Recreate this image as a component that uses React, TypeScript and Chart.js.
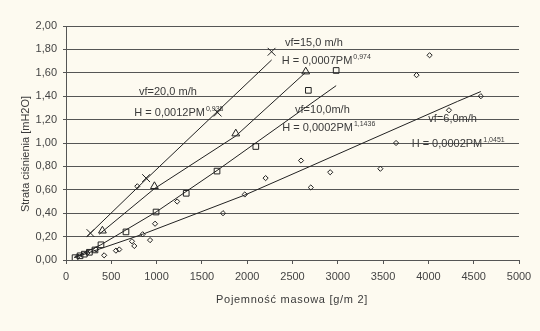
import React, { useEffect, useRef } from "react";
import { Chart, registerables } from "chart.js";

Chart.register(...registerables);

// ---- data ----
const xTickValues = [0, 500, 1000, 1500, 2000, 2500, 3000, 3500, 4000, 4500, 5000];
const yTickValues = [0, 0.2, 0.4, 0.6, 0.8, 1.0, 1.2, 1.4, 1.6, 1.8, 2.0];

// vf = 20,0 m/h (X markers)
const vf20X = [270, 884, 1674, 2269];
const vf20Y = [0.23, 0.7, 1.26, 1.78];
// vf = 15,0 m/h (triangles)
const vf15X = [402, 976, 1874, 2646];
const vf15Y = [0.25, 0.63, 1.08, 1.61];
// vf = 10,0 m/h (squares)
const vf10X = [100, 155, 202, 258, 320, 386, 662, 994, 1327, 1667, 2095, 2675, 2982];
const vf10Y = [0.02, 0.036, 0.05, 0.066, 0.086, 0.13, 0.24, 0.41, 0.57, 0.76, 0.97, 1.45, 1.62];
// vf = 6,0 m/h (diamonds)
const vf6X = [130, 236, 330, 421, 551, 588, 728, 754, 787, 846, 928, 983, 1227, 1733, 1973, 2203, 2594, 2702, 2916, 3470, 3643, 3869, 4013, 4227, 4579];
const vf6Y = [0.03, 0.06, 0.09, 0.04, 0.08, 0.09, 0.16, 0.12, 0.63, 0.22, 0.17, 0.31, 0.5, 0.4, 0.56, 0.7, 0.85, 0.62, 0.75, 0.78, 1.0, 1.58, 1.75, 1.28, 1.4];

// trend lines
const trend20X = [230, 884, 2270];
const trend20Y = [0.2, 0.69, 1.71];
const trend15X = [366, 976, 1874, 2640];
const trend15Y = [0.22, 0.61, 1.06, 1.6];
const trend10X = [100, 385, 994, 1667, 2982];
const trend10Y = [0.025, 0.13, 0.41, 0.765, 1.49];
const trend6X = [90, 846, 1973, 2694, 3322, 4320, 4579];
const trend6Y = [0.02, 0.22, 0.555, 0.8, 1.015, 1.355, 1.44];

// annotation texts
const labelTexts = ["vf=20,0 m/h", "vf=15,0 m/h", "vf=10,0m/h", "vf=6,0m/h"];
const eqBases = ["H = 0,0012PM", "H = 0,0007PM", "H = 0,0002PM", "H = 0,0002PM"];
const eqExps = ["0,938", "0,974", "1,1436", "1,0451"];

const xTitle = "Pojemność masowa [g/m 2]";
const yTitle = "Strata ciśnienia [mH2O]";

// ---- styling / placement (not data) ----
const labelAnchors = [
  [806, 1.437],
  [2417, 1.857],
  [2528, 1.286],
  [3999, 1.206],
];
const eqAnchors = [
  [754, 1.257],
  [2381, 1.7],
  [2387, 1.129],
  [3815, 0.994],
];

const BG = "#fdfaf0";
const INK = "#222";
const TXT = "#3a3a3a";
const FONT = "'Liberation Sans', Arial, sans-serif";

const pts = (xs: number[], ys: number[]) => xs.map((x, i) => ({ x, y: ys[i] }));

export default function App() {
  const ref = useRef<HTMLCanvasElement | null>(null);

  useEffect(() => {
    document.body.style.margin = "0";
    document.body.style.background = BG;
    const canvas = ref.current;
    if (!canvas) return;

    const overlay = {
      id: "overlay",
      beforeDraw(chart: any) {
        const ctx = chart.ctx;
        ctx.save();
        ctx.fillStyle = BG;
        ctx.fillRect(0, 0, chart.width, chart.height);
        ctx.restore();
      },
      afterDraw(chart: any) {
        const ctx = chart.ctx;
        const xs = chart.scales.x;
        const ys = chart.scales.y;
        ctx.save();
        ctx.fillStyle = TXT;
        ctx.textBaseline = "middle";
        ctx.textAlign = "left";
        ctx.font = `11px ${FONT}`;
        labelTexts.forEach((t, i) => {
          const px = xs.getPixelForValue(labelAnchors[i][0]);
          const py = ys.getPixelForValue(labelAnchors[i][1]);
          ctx.fillText(t, px, py);
        });
        eqBases.forEach((t, i) => {
          const px = xs.getPixelForValue(eqAnchors[i][0]);
          const py = ys.getPixelForValue(eqAnchors[i][1]);
          ctx.font = `11px ${FONT}`;
          ctx.fillText(t, px, py);
          const w = ctx.measureText(t).width;
          ctx.font = `7px ${FONT}`;
          ctx.fillText(eqExps[i], px + w + 1, py - 4);
        });
        // axis titles
        ctx.font = `11px ${FONT}`;
        (ctx as any).letterSpacing = "0.7px";
        ctx.textAlign = "center";
        ctx.fillText(xTitle, 292, 300);
        ctx.translate(26, 154);
        ctx.rotate(-Math.PI / 2);
        (ctx as any).letterSpacing = "0px";
        ctx.fillText(yTitle, 0, 0);
        ctx.restore();
      },
    };

    const lineDs = (xs: number[], ys: number[]) => ({
      type: "line" as const,
      data: pts(xs, ys),
      borderColor: INK,
      borderWidth: 1,
      pointRadius: 0,
      showLine: true,
      fill: false,
      tension: 0,
    });
    const markDs = (xs: number[], ys: number[], style: string, r: number) => ({
      type: "scatter" as const,
      data: pts(xs, ys),
      pointStyle: style,
      pointRadius: r,
      pointBorderColor: INK,
      pointBackgroundColor: "rgba(0,0,0,0)",
      pointBorderWidth: 1,
      showLine: false,
    });

    const chart = new Chart(canvas, {
      type: "scatter",
      data: {
        datasets: [
          lineDs(trend20X, trend20Y),
          lineDs(trend15X, trend15Y),
          lineDs(trend10X, trend10Y),
          lineDs(trend6X, trend6Y),
          markDs(vf20X, vf20Y, "crossRot", 5.5),
          markDs(vf15X, vf15Y, "triangle", 4.5),
          markDs(vf10X, vf10Y, "rect", 4),
          markDs(vf6X, vf6Y, "rectRot", 2.6),
        ] as any,
      },
      options: {
        animation: false,
        responsive: false,
        devicePixelRatio: 1,
        layout: { padding: { top: 26, right: 21, left: 0, bottom: 0 } },
        plugins: { legend: { display: false }, tooltip: { enabled: false } },
        scales: {
          x: {
            type: "linear",
            min: 0,
            max: 5000,
            afterBuildTicks: (s: any) => {
              s.ticks = xTickValues.map((v) => ({ value: v }));
            },
            afterFit: (s: any) => {
              s.height = 71;
            },
            ticks: {
              color: "#444",
              font: { size: 11, family: FONT },
              padding: 6,
              maxRotation: 0,
              callback: (v: any) => String(v),
            },
            grid: {
              display: true,
              drawOnChartArea: false,
              drawTicks: true,
              tickLength: 4,
              color: "#555",
            },
            border: { display: true, color: "#555", width: 1 },
          },
          y: {
            type: "linear",
            min: 0,
            max: 2,
            afterBuildTicks: (s: any) => {
              s.ticks = yTickValues.map((v) => ({ value: v }));
            },
            afterFit: (s: any) => {
              s.width = 66;
            },
            ticks: {
              color: "#444",
              font: { size: 11, family: FONT },
              padding: 6,
              callback: (v: any) => Number(v).toFixed(2).replace(".", ","),
            },
            grid: {
              display: true,
              drawOnChartArea: true,
              drawTicks: true,
              tickLength: 3,
              color: "#555",
            },
            border: { display: true, color: "#555", width: 1 },
          },
        },
      },
      plugins: [overlay],
    });
    return () => chart.destroy();
  }, []);

  return (
    <div style={{ width: 540, height: 331, background: BG }}>
      <canvas ref={ref} width={540} height={331} style={{ display: "block" }} />
    </div>
  );
}
